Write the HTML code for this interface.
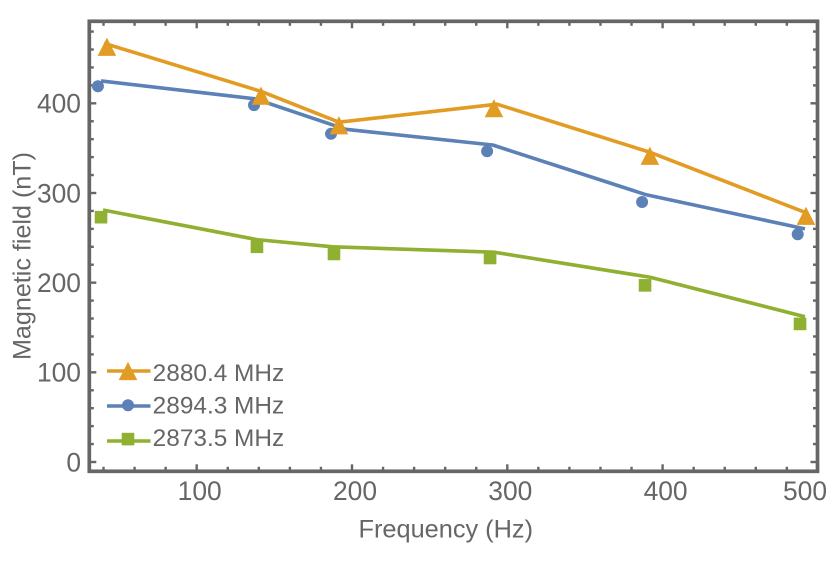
<!DOCTYPE html>
<html lang="en">
<head>
<meta charset="utf-8">
<title>Magnetic field vs frequency</title>
<style>
html,body{margin:0;padding:0;background:#fff;}
svg{display:block;}
text{font-family:"Liberation Sans",sans-serif;fill:#666;}
</style>
</head>
<body>
<svg id="chart" width="830" height="562" viewBox="0 0 830 562" xmlns="http://www.w3.org/2000/svg"></svg>
<script>
const seriesNames = ['2880.4 MHz', '2894.3 MHz', '2873.5 MHz'];
const seriesKeys = ['orange', 'blue', 'green'];
const seriesColors = ['#E29C24', '#5B81B7', '#8FB031'];
const seriesMarkers = ['triangle', 'circle', 'square'];

const orangeLineX = [40.3, 142, 191.6, 293.4, 392.6, 492.3];
const orangeLineY = [467, 413, 379, 399, 345, 278];
const orangePointX = [42.2, 141.4, 191.6, 291.4, 391.8, 492.3];
const orangePointY = [462.5, 408, 375, 394, 341, 274];

const blueLineX = [38.4, 137.6, 196, 290.6, 389.5, 491.7];
const blueLineY = [425, 405, 371, 353.5, 298, 260];
const bluePointX = [36.4, 136.9, 186.5, 287, 386.8, 487];
const bluePointY = [419, 398, 366, 346.5, 290, 254];

const greenLineX = [39.7, 138.8, 187.7, 291.4, 392, 491.7];
const greenLineY = [281, 248, 240, 234, 206, 162];
const greenPointX = [38.4, 138.8, 188.4, 288.9, 388.7, 488.5];
const greenPointY = [273, 240, 232, 227.5, 197, 154];

const xTickLabels = [100, 200, 300, 400, 500];
const yTickLabels = [0, 100, 200, 300, 400];

const NS = 'http://www.w3.org/2000/svg';
const svg = document.getElementById('chart');

const sx = v => 196.7 + (v - 100) * 1.553;
const sy = v => 462 - v * 0.8967;

const frameLeft = 89.3, frameRight = 817.5, frameTop = 21.3, frameBottom = 471.3;

function make(tag, attrs, parent) {
  const el = document.createElementNS(NS, tag);
  for (const k in attrs) el.setAttribute(k, attrs[k]);
  (parent || svg).appendChild(el);
  return el;
}

function drawMarker(kind, x, y, color, parent) {
  if (kind === 'triangle') {
    return make('polygon', {
      points: x + ',' + (y - 9.6) + ' ' + (x - 9.3) + ',' + (y + 8.6) + ' ' + (x + 9.3) + ',' + (y + 8.6),
      fill: color
    }, parent);
  }
  if (kind === 'circle') {
    return make('circle', { cx: x, cy: y, r: 6, fill: color }, parent);
  }
  const s = 6.3;
  return make('rect', { x: x - s, y: y - s, width: 2 * s, height: 2 * s, fill: color }, parent);
}

/* ticks */
const tickGroup = make('g', { stroke: '#666', fill: 'none' });


for (let v = 40; v <= 500; v += 20) {
  const len = v % 100 === 0 ? 7 : 4.5;
  make('line', { x1: sx(v), x2: sx(v), y1: frameBottom, y2: frameBottom - len, 'stroke-width': 2.4 }, tickGroup);
  make('line', { x1: sx(v), x2: sx(v), y1: frameTop, y2: frameTop + len, 'stroke-width': 2.4 }, tickGroup);
}
for (let v = 0; v <= 480; v += 20) {
  const len = v % 100 === 0 ? 7 : 4.5;
  make('line', { x1: frameLeft, x2: frameLeft + len, y1: sy(v), y2: sy(v), 'stroke-width': 2.4 }, tickGroup);
  make('line', { x1: frameRight, x2: frameRight - len, y1: sy(v), y2: sy(v), 'stroke-width': 2.4 }, tickGroup);
}

/* frame */
const frame = make('rect', {
  x: frameLeft, y: frameTop, width: frameRight - frameLeft, height: frameBottom - frameTop,
  fill: 'none', stroke: '#666', 'stroke-width': 3.7
});



/* tick labels */
xTickLabels.forEach(v => {
  const t = make('text', { x: Math.min(sx(v) + 3, 805), y: 500, 'font-size': 26.4, 'text-anchor': 'middle' });
  
  
  t.textContent = v;
});
yTickLabels.forEach(v => {
  const t = make('text', { x: 81, y: sy(v) + 9.3, 'font-size': 26.4, 'text-anchor': 'end' });
  
  
  t.textContent = v;
});

/* axis titles */
const xTitle = make('text', { x: 358.5, y: 537.5, 'font-size': 25, textLength: 174.5, lengthAdjust: 'spacingAndGlyphs' });


xTitle.textContent = 'Frequency (Hz)';

const yTitle = make('text', { x: 0, y: 0, 'font-size': 25, textLength: 208, lengthAdjust: 'spacingAndGlyphs', transform: 'translate(30.7,360) rotate(-90)' });


yTitle.textContent = 'Magnetic field (nT)';

/* series */
const lineXs = [orangeLineX, blueLineX, greenLineX];
const lineYs = [orangeLineY, blueLineY, greenLineY];
const pointXs = [orangePointX, bluePointX, greenPointX];
const pointYs = [orangePointY, bluePointY, greenPointY];

[2, 1, 0].forEach(i => {
  const g = make('g', {});
  
  
  const pts = lineXs[i].map((x, j) => sx(x) + ',' + sy(lineYs[i][j])).join(' ');
  const line = make('polyline', { points: pts, fill: 'none', stroke: seriesColors[i], 'stroke-width': 3.6, 'stroke-linejoin': 'round' }, g);
  
  
  pointXs[i].forEach((x, j) => {
    const m = drawMarker(seriesMarkers[i], sx(x), sy(pointYs[i][j]), seriesColors[i], g);
    
    
  });
});

/* legend */
const legend = make('g', {});


const legendLineRow = i => 371 + i * 35;
const legendMarkerRow = i => 371.5 + i * 33.8;
const legendTextRow = i => 381 + i * 32.4;
seriesNames.forEach((name, i) => {
  const entry = make('g', {}, legend);
  
  
  make('line', { x1: 107, x2: 150.5, y1: legendLineRow(i), y2: legendLineRow(i), stroke: seriesColors[i], 'stroke-width': 3.6 }, entry);
  drawMarker(seriesMarkers[i], 128, legendMarkerRow(i), seriesColors[i], entry);
  const t = make('text', { x: 152.7, y: legendTextRow(i), 'font-size': 24, textLength: 131.5, lengthAdjust: 'spacingAndGlyphs' }, entry);
  t.textContent = name;
});
</script>
</body>
</html>
